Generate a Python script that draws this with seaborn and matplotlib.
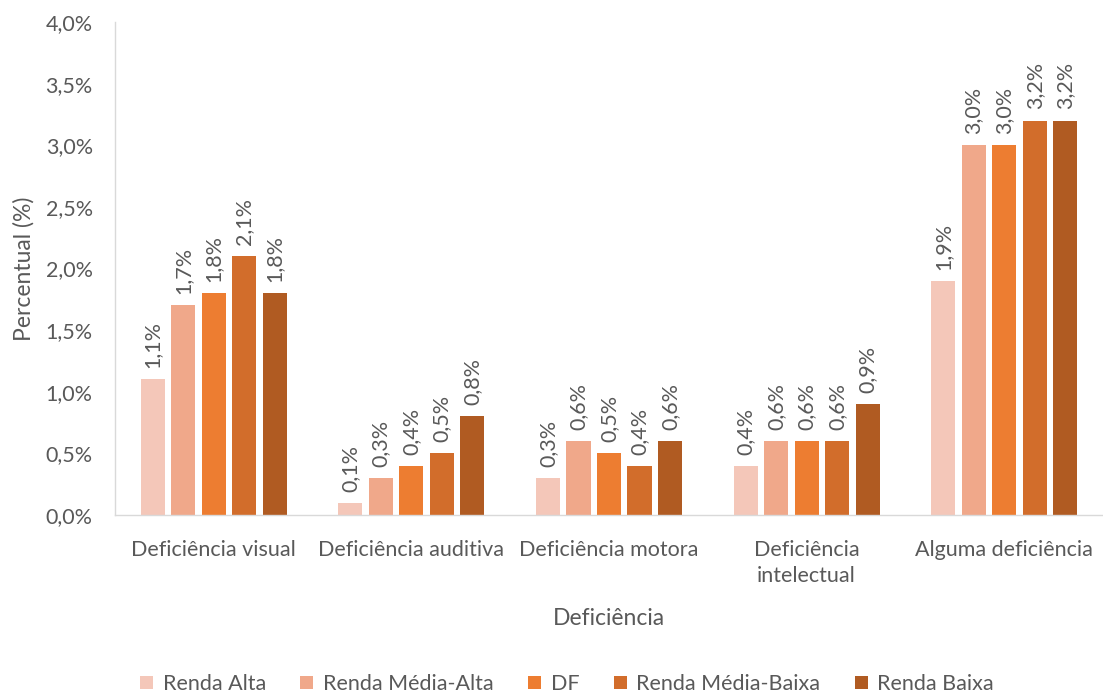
import matplotlib
matplotlib.use("Agg")
import matplotlib.pyplot as plt
import seaborn as sns
import pandas as pd

categories = ["Deficiência visual", "Deficiência auditiva", "Deficiência motora",
              "Deficiência\nintelectual", "Alguma deficiência"]
groups = ["Renda Alta", "Renda Média-Alta", "DF", "Renda Média-Baixa", "Renda Baixa"]
renda_alta = [1.1, 0.1, 0.3, 0.4, 1.9]
renda_media_alta = [1.7, 0.3, 0.6, 0.6, 3.0]
df_vals = [1.8, 0.4, 0.5, 0.6, 3.0]
renda_media_baixa = [2.1, 0.5, 0.4, 0.6, 3.2]
renda_baixa = [1.8, 0.8, 0.6, 0.9, 3.2]
colors = ["#F4C7B9", "#F0A88A", "#ED7D31", "#D26D2B", "#B05B22"]
yticks = [0.0, 0.5, 1.0, 1.5, 2.0, 2.5, 3.0, 3.5, 4.0]

series = [renda_alta, renda_media_alta, df_vals, renda_media_baixa, renda_baixa]
rows = []
for g, vals in zip(groups, series):
    for c, v in zip(categories, vals):
        rows.append({"Deficiência": c, "Grupo": g, "Valor": v})
data = pd.DataFrame(rows)

sns.set_style("white")
plt.rcParams["font.family"] = ["Lato", "DejaVu Sans"]
text_color = "#595959"
fs = 15.5

fig = plt.figure(figsize=(11.03, 6.95), dpi=100)
ax = fig.add_axes([115/1103, 1 - 515/695, (1103 - 115)/1103, (515 - 22)/695])

sns.barplot(data=data, x="Deficiência", y="Valor", hue="Grupo", hue_order=groups,
            order=categories, palette=colors, saturation=1, width=0.772, gap=0.21,
            ax=ax, linewidth=0, legend=True)

ax.set_ylim(0, 4.0)
ax.set_yticks(yticks)
ax.set_yticklabels([f"{t:.1f}%".replace(".", ",") for t in yticks])
ax.tick_params(axis="both", colors=text_color, labelsize=fs, length=0)
ax.tick_params(axis="x", pad=18)
ax.tick_params(axis="y", pad=16)
for lbl in ax.get_xticklabels():
    lbl.set_linespacing(1.35)
ax.set_ylabel("Percentual (%)", fontsize=fs + 1, color=text_color, labelpad=8)
ax.set_xlabel("Deficiência", fontsize=fs + 1, color=text_color, labelpad=16)

for side in ["top", "right"]:
    ax.spines[side].set_visible(False)
for side in ["left", "bottom"]:
    ax.spines[side].set_color("#D9D9D9")
    ax.spines[side].set_linewidth(1)

for cont in ax.containers:
    labels = [f"{v:.1f}%".replace(".", ",") for v in cont.datavalues]
    ax.bar_label(cont, labels=labels, rotation=90, padding=8, fontsize=fs, color=text_color)

leg = ax.legend(loc="center", bbox_to_anchor=(0.5 - 42/988, -0.343), ncol=5,
                frameon=False, fontsize=fs, handlelength=0.6, handleheight=0.6,
                columnspacing=1.6, handletextpad=0.45)
for t in leg.get_texts():
    t.set_color(text_color)

fig.savefig("out.png", dpi=100)
